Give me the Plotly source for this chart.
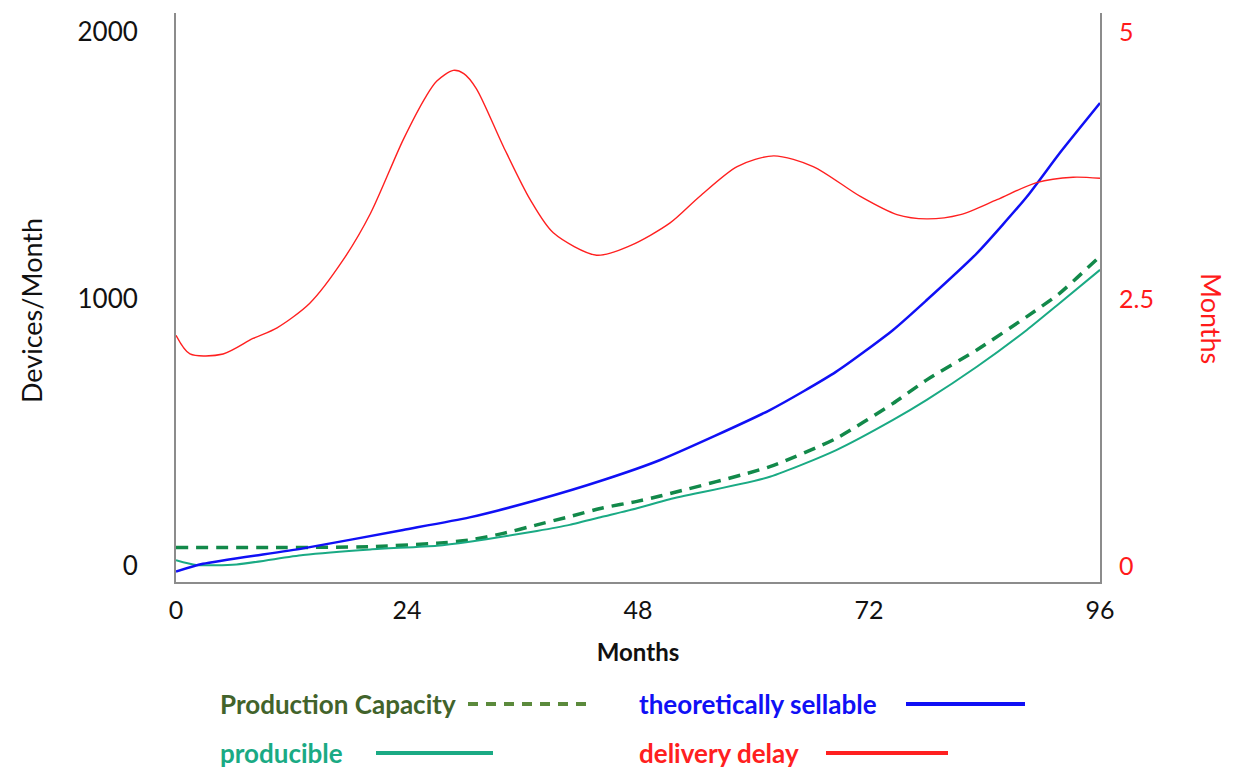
import plotly.graph_objects as go

# ---------------- data ----------------
t_sellable = [0, 2.8, 13.2, 23.6, 30.5, 37.5, 44.4, 50.3, 61.7, 68.6, 74.5, 78.0, 83.2, 88.4, 91.8, 96]
v_sellable = [-21, 8, 66, 135, 182, 247, 322, 397, 584, 728, 884, 996, 1171, 1383, 1546, 1734]

t_capacity = [0, 10, 20, 27.1, 30.5, 34.0, 37.5, 40.9, 44.4, 47.9, 50.3, 61.7, 68.6, 74.5, 78.0, 83.2, 88.4, 91.8, 96]
v_capacity = [69, 69, 72, 85, 97, 122, 154, 185, 218, 242, 262, 372, 478, 609, 697, 809, 934, 1021, 1160]

t_producible = [0, 2.1, 6.3, 13.2, 20.2, 27.1, 30.5, 34.0, 37.5, 40.9, 44.4, 47.9, 51.3, 61.7, 68.6, 74.5, 78.0, 83.2, 88.4, 91.8, 96]
v_producible = [22, 4, 6, 41, 62, 76, 91, 110, 131, 154, 185, 216, 250, 334, 434, 547, 622, 746, 884, 984, 1109]

t_delay = [0, 1.45, 4.9, 8.0, 10.5, 13.9, 17.4, 20.2, 23.6, 26.0, 27.1, 28.8, 29.9, 31.2, 34.0, 36.8, 39.2, 43.7,
           47.2, 51.3, 54.4, 58.3, 62.1, 66.2, 71.1, 74.9, 78.0, 81.5, 85.3, 89.4, 93.2, 96]
v_delay = [2.16, 1.985, 1.985, 2.13, 2.23, 2.46, 2.87, 3.30, 3.99, 4.40, 4.54, 4.64, 4.61, 4.47, 3.93, 3.43, 3.12, 2.91,
           3.0, 3.21, 3.46, 3.74, 3.84, 3.74, 3.46, 3.29, 3.25, 3.29, 3.43, 3.59, 3.64, 3.63]

x_ticks = [0, 24, 48, 72, 96]
y_ticks = [0, 1000, 2000]
y2_ticks = [0, 2.5, 5]
y2_tick_text = ["0", "2.5", "5"]

series_names = ["Production Capacity", "theoretically sellable", "producible", "delivery delay"]

# ---------------- style ----------------
C_CAP = "#12894a"
C_CAP_LEG = "#5b8a3c"
C_CAP_TXT = "#42632b"
C_SELL = "#1010f5"
C_PROD = "#1aaa84"
C_DELAY = "#ff2020"
AX = "#8c8c8c"
FONT = "Lato"

OFF = 8  # page body margin
W, H = 1234 - OFF, 771 - OFF
# plot area in screen pixels
L, R, T, B = 176, 1100, 13, 582


def px(xp):
    return (xp - L) / (R - L)


def py(yp):
    return (B - yp) / (B - T)


fig = go.Figure()
fig.add_trace(go.Scatter(x=t_capacity, y=v_capacity, name=series_names[0], mode="lines",
                         line=dict(color=C_CAP, width=3.5, dash="12px,8px", shape="spline", smoothing=0.6)))
fig.add_trace(go.Scatter(x=t_producible, y=v_producible, name=series_names[2], mode="lines",
                         line=dict(color=C_PROD, width=2, shape="spline", smoothing=0.6)))
fig.add_trace(go.Scatter(x=t_sellable, y=v_sellable, name=series_names[1], mode="lines",
                         line=dict(color=C_SELL, width=2.5, shape="spline", smoothing=0.6)))
fig.add_trace(go.Scatter(x=t_delay, y=v_delay, name=series_names[3], mode="lines", yaxis="y2",
                         line=dict(color=C_DELAY, width=1.4, shape="spline", smoothing=0.8)))

fig.update_layout(
    width=W, height=H,
    margin=dict(l=L - OFF, r=W - (R - OFF), t=T - OFF, b=H - (B - OFF)),
    paper_bgcolor="white", plot_bgcolor="white",
    showlegend=False,
    font=dict(family=FONT, color="#111111"),
    xaxis=dict(range=[0, 96], tickvals=x_ticks, showgrid=False, zeroline=False,
               showline=True, linecolor=AX, linewidth=2, ticks="",
               tickfont=dict(size=25, color="#111111"), ticklabelstandoff=5,
               title=dict(text="<b>Months</b>", font=dict(size=24, color="#111111"), standoff=21)),
    yaxis=dict(range=[-60, 2071], tickvals=y_ticks, showgrid=False, zeroline=False,
               showline=True, linecolor=AX, linewidth=2, ticks="",
               tickfont=dict(size=26, color="#111111"), ticklabelstandoff=31),
    yaxis2=dict(range=[-0.15, 5.1775], tickvals=y2_ticks, ticktext=y2_tick_text, overlaying="y", side="right",
                showgrid=False, zeroline=False, showline=True, linecolor=AX, linewidth=2, ticks="",
                tickfont=dict(size=25, color="#ff1a1a"), ticklabelstandoff=12),
)

# left axis title
fig.add_annotation(text="Devices/Month", xref="paper", yref="paper", x=px(31), y=py(311), showarrow=False,
                   textangle=-90, font=dict(size=27, color="#111111", family=FONT),
                   xanchor="center", yanchor="middle")
# right axis title (reads top-to-bottom)
fig.add_annotation(text="Months", xref="paper", yref="paper", x=px(1212), y=py(318), showarrow=False,
                   textangle=90, font=dict(size=27, color="#ff1a1a", family=FONT),
                   xanchor="center", yanchor="middle")

# custom legend: text followed by line sample
legend_items = [
    (series_names[0], C_CAP_TXT, 219, 704, 468, 588, C_CAP_LEG, "dash"),
    (series_names[2], C_PROD, 219, 753, 376, 493, C_PROD, "solid"),
    (series_names[1], C_SELL, 638, 704, 906, 1025, C_SELL, "solid"),
    (series_names[3], C_DELAY, 638, 753, 826, 948, C_DELAY, "solid"),
]
for name, tcol, tx, ty, lx0, lx1, lcol, dash in legend_items:
    fig.add_annotation(text="<b>" + name + "</b>", xref="paper", yref="paper", x=px(tx), y=py(ty),
                       xanchor="left", yanchor="middle", showarrow=False, borderpad=0,
                       font=dict(size=26, color=tcol, family=FONT))
    fig.add_shape(type="line", xref="paper", yref="paper", x0=px(lx0), x1=px(lx1), y0=py(ty), y1=py(ty),
                  line=dict(color=lcol, width=4, dash="10px,8px" if dash == "dash" else "solid"))

fig.write_html("out.html")
